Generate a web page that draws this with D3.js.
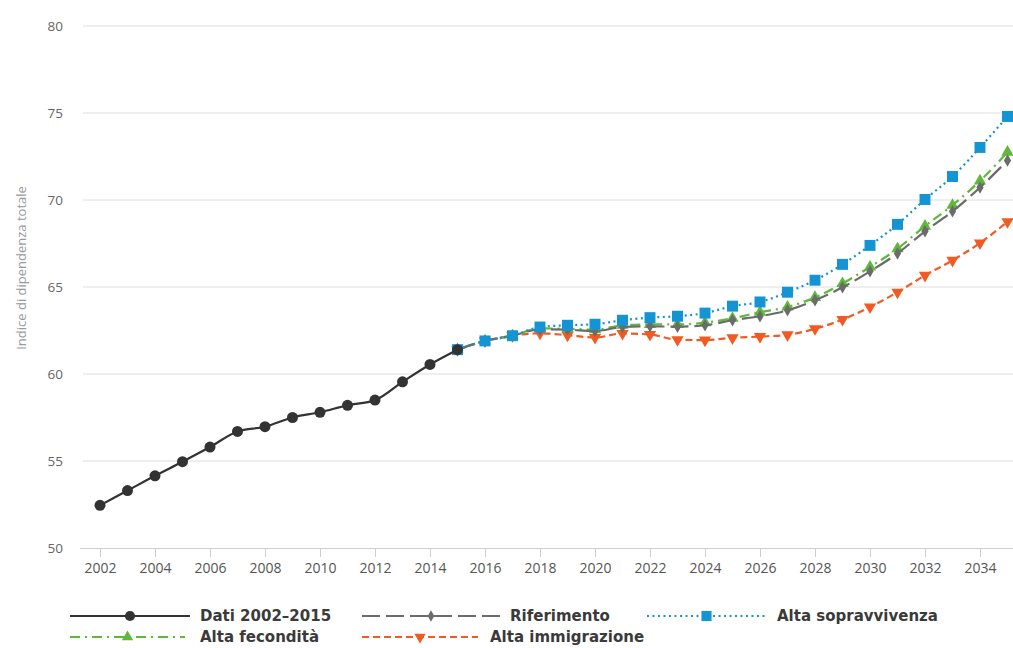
<!DOCTYPE html>
<html>
<head>
<meta charset="utf-8">
<script src="https://cdn.jsdelivr.net/npm/d3@7"></script>
<style>
  html, body { margin: 0; padding: 0; background: #fff; }
  svg { display: block; }
</style>
</head>
<body>
<svg id="chart" width="1013" height="648"></svg>
<script>
// ---- data ----
const yearsDati = d3.range(2002, 2016);
const dati = [52.45, 53.3, 54.15, 54.96, 55.8, 56.7, 56.97, 57.5, 57.8, 58.2, 58.5, 59.55, 60.55, 61.4];

const yearsProj = d3.range(2015, 2036);
const riferimento = [61.4, 61.9, 62.2, 62.57, 62.55, 62.47, 62.7, 62.74, 62.72, 62.8, 63.09, 63.32, 63.66, 64.24, 64.98, 65.9, 66.93, 68.2, 69.35, 70.72, 72.27];
const altaSopravvivenza = [61.4, 61.9, 62.2, 62.7, 62.8, 62.86, 63.09, 63.24, 63.32, 63.5, 63.9, 64.14, 64.7, 65.39, 66.3, 67.39, 68.6, 70.03, 71.35, 73.02, 74.8];
const altaFecondita = [61.4, 61.9, 62.2, 62.62, 62.6, 62.55, 62.8, 62.85, 62.85, 62.95, 63.2, 63.55, 63.85, 64.4, 65.2, 66.15, 67.2, 68.5, 69.7, 71.1, 72.75];
const altaImmigrazione = [61.4, 61.9, 62.2, 62.34, 62.23, 62.1, 62.33, 62.27, 61.97, 61.95, 62.08, 62.15, 62.25, 62.6, 63.13, 63.85, 64.7, 65.67, 66.53, 67.53, 68.75];

const yTicks = [50, 55, 60, 65, 70, 75, 80];
const xTicks = d3.range(2002, 2035, 2);
const yLabel = "Indice di dipendenza totale";
const legendLabels = ["Dati 2002–2015", "Riferimento", "Alta sopravvivenza", "Alta fecondità", "Alta immigrazione"];

// ---- layout ----
const svg = d3.select("#chart");
const x = d3.scaleLinear().domain([2002, 2035]).range([100, 1007.5]);
const y = d3.scaleLinear().domain([50, 80]).range([548, 26]);

const font = "'Open Sans', 'Noto Sans', sans-serif";
const legendFont = "'DejaVu Sans', 'Open Sans', sans-serif";

// grid
const grid = svg.append("g");
grid.selectAll("line").data(yTicks.filter(v => v > 50)).join("line")
  .attr("x1", 83).attr("x2", 1013)
  .attr("y1", d => y(d)).attr("y2", d => y(d))
  .attr("stroke", "#dedede").attr("stroke-width", 1);

// y axis labels
const yAxis = svg.append("g").attr("transform", "translate(63,0)")
  .call(d3.axisLeft(y).tickValues(yTicks).tickSize(0).tickPadding(0).tickFormat(d3.format("d")));
yAxis.select(".domain").remove();
yAxis.selectAll("text").attr("font-family", font).attr("font-size", 13.5).attr("fill", "#666");

// x axis
const xAxis = svg.append("g").attr("transform", "translate(0,548)")
  .call(d3.axisBottom(x).tickValues(xTicks).tickSize(9).tickPadding(6).tickFormat(d3.format("d")));
xAxis.select(".domain").attr("d", "M80,0.5H1013").attr("stroke", "#cfcfcf");
xAxis.selectAll(".tick line").attr("stroke", "#cfcfcf");
xAxis.selectAll("text").attr("font-family", font).attr("font-size", 14).attr("fill", "#555");

// y label
svg.append("text")
  .attr("transform", "translate(26,268) rotate(-90)")
  .attr("text-anchor", "middle")
  .attr("font-family", font).attr("font-size", 13).attr("fill", "#999")
  .text(yLabel);

// ---- series ----
const styles = {
  dati:  { color: "#333333", dash: null,    symbol: d3.symbolCircle,   size: 95,  width: 2.2, rotate: 0 },
  rif:   { color: "#6b6b6b", dash: "18,6",  symbol: d3.symbolDiamond,  size: 45,  width: 2.2, rotate: 0 },
  sopr:  { color: "#1494d2", dash: "2,3.5", symbol: d3.symbolSquare,   size: 120, width: 2.2, rotate: 0 },
  fec:   { color: "#5fb83a", dash: "10,5,2,5", symbol: d3.symbolTriangle, size: 65, width: 2.2, rotate: 0 },
  imm:   { color: "#f15a22", dash: "7,4",   symbol: d3.symbolTriangle, size: 65,  width: 2.2, rotate: 180 }
};

function drawSeries(years, values, st, curve) {
  const pts = years.map((yr, i) => [yr, values[i]]);
  const line = d3.line().x(d => x(d[0])).y(d => y(d[1])).curve(curve);
  const g = svg.append("g");
  g.append("path").datum(pts)
    .attr("d", line).attr("fill", "none")
    .attr("stroke", st.color).attr("stroke-width", st.width)
    .attr("stroke-dasharray", st.dash);
  g.selectAll("path.m").data(pts).join("path").attr("class", "m")
    .attr("d", d3.symbol().type(st.symbol).size(st.size))
    .attr("transform", d => `translate(${x(d[0])},${y(d[1])}) rotate(${st.rotate})`)
    .attr("fill", st.color);
}

drawSeries(yearsProj, altaImmigrazione, styles.imm, d3.curveMonotoneX);
drawSeries(yearsProj, altaFecondita, styles.fec, d3.curveMonotoneX);
drawSeries(yearsProj, riferimento, styles.rif, d3.curveMonotoneX);
drawSeries(yearsProj, altaSopravvivenza, styles.sopr, d3.curveMonotoneX);
drawSeries(yearsDati, dati, styles.dati, d3.curveMonotoneX);

// ---- legend ----
const legendItems = [
  { label: legendLabels[0], st: styles.dati, x1: 70,  x2: 190, tx: 200, ty: 616 },
  { label: legendLabels[1], st: styles.rif,  x1: 362, x2: 500, tx: 510, ty: 616 },
  { label: legendLabels[2], st: styles.sopr, x1: 647, x2: 766, tx: 777, ty: 616 },
  { label: legendLabels[3], st: styles.fec,  x1: 70,  x2: 185, tx: 200, ty: 637 },
  { label: legendLabels[4], st: styles.imm,  x1: 362, x2: 478, tx: 490, ty: 637 }
];
const lg = svg.append("g");
legendItems.forEach(it => {
  const g = lg.append("g");
  g.append("line").attr("x1", it.x1).attr("x2", it.x2).attr("y1", it.ty).attr("y2", it.ty)
    .attr("stroke", it.st.color).attr("stroke-width", 2.2).attr("stroke-dasharray", it.st.dash);
  const mx = (it.x1 + it.x2) / 2;
  g.append("path").attr("d", d3.symbol().type(it.st.symbol).size(it.st.size * 0.85))
    .attr("transform", `translate(${mx},${it.ty}) rotate(${it.st.rotate})`)
    .attr("fill", it.st.color);
  g.append("text").attr("x", it.tx).attr("y", it.ty).attr("dy", "0.35em")
    .attr("font-family", legendFont).attr("font-size", 15).attr("font-weight", "bold")
    .attr("fill", "#3a3a3a").text(it.label);
});
</script>
</body>
</html>
